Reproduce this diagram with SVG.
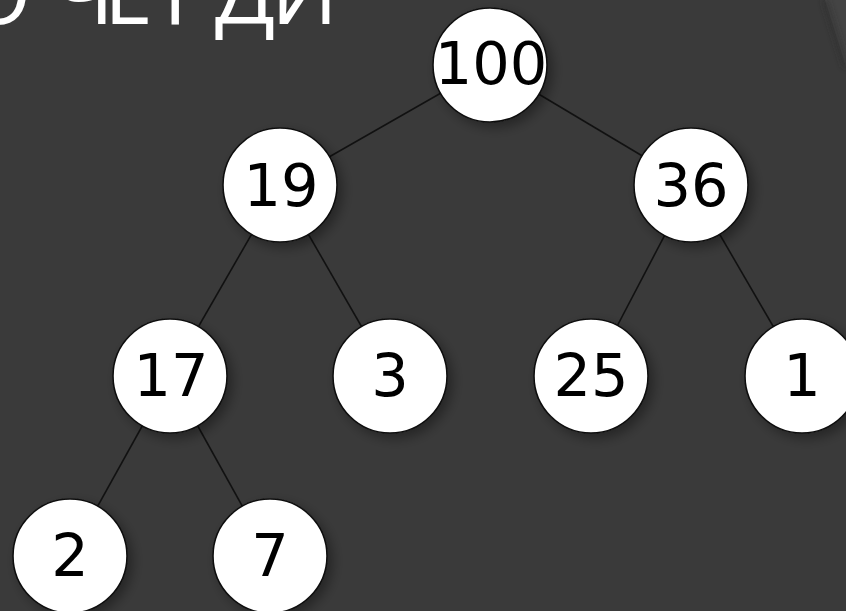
<svg xmlns="http://www.w3.org/2000/svg" width="846" height="611" viewBox="0 0 846 611">
  <defs>
    <filter id="shadow" x="-30%" y="-30%" width="170%" height="170%">
      <feDropShadow dx="5" dy="5" stdDeviation="6" flood-color="#000" flood-opacity="0.35"/>
    </filter>
    <filter id="blur" x="-50%" y="-50%" width="200%" height="200%">
      <feGaussianBlur stdDeviation="3"/>
    </filter>
    <style>
      .node circle { fill: #ffffff; stroke: #111111; stroke-width: 1.6; filter: url(#shadow); }
      .node text { font-family: "DejaVu Sans", sans-serif; font-size: 59px; fill: #000000; text-anchor: middle; }
      .edges line { stroke: #111111; stroke-width: 1.6; }
      .title { font-family: "Open Sans", "Noto Sans", sans-serif; font-size: 88px; fill: #ffffff; }
    </style>
  </defs>
  <rect width="846" height="611" fill="#3a3a3a"/>
  <polygon points="825,0 846,67 846,0" fill="#444444"/>
  <line x1="825" y1="0" x2="846" y2="67" stroke="#2c2c2c" stroke-width="4" filter="url(#blur)" opacity="0.7"/>
  <text class="title" x="-37 53 104 163 215 271" y="24">ОЧЕГДИ</text>
  <g class="edges">
    <line x1="490" y1="65" x2="280" y2="185"/>
    <line x1="490" y1="65" x2="691" y2="185"/>
    <line x1="280" y1="185" x2="170" y2="376"/>
    <line x1="280" y1="185" x2="390" y2="376"/>
    <line x1="691" y1="185" x2="591" y2="376"/>
    <line x1="691" y1="185" x2="802" y2="376"/>
    <line x1="170" y1="376" x2="70" y2="556"/>
    <line x1="170" y1="376" x2="270" y2="556"/>
  </g>
  <g id="n100" class="node"><circle cx="490" cy="65" r="57"/><text x="491" y="84">100</text></g>
  <g id="n19" class="node"><circle cx="280" cy="185" r="57"/><text x="281" y="206">19</text></g>
  <g id="n36" class="node"><circle cx="691" cy="185" r="57"/><text x="691" y="206">36</text></g>
  <g id="n17" class="node"><circle cx="170" cy="376" r="57"/><text x="171" y="396">17</text></g>
  <g id="n3" class="node"><circle cx="390" cy="376" r="57"/><text x="390" y="396">3</text></g>
  <g id="n25" class="node"><circle cx="591" cy="376" r="57"/><text x="591" y="396">25</text></g>
  <g id="n1" class="node"><circle cx="802" cy="376" r="57"/><text x="802" y="396">1</text></g>
  <g id="n2" class="node"><circle cx="70" cy="556" r="57"/><text x="70" y="576">2</text></g>
  <g id="n7" class="node"><circle cx="270" cy="556" r="57"/><text x="270" y="576">7</text></g>
</svg>
